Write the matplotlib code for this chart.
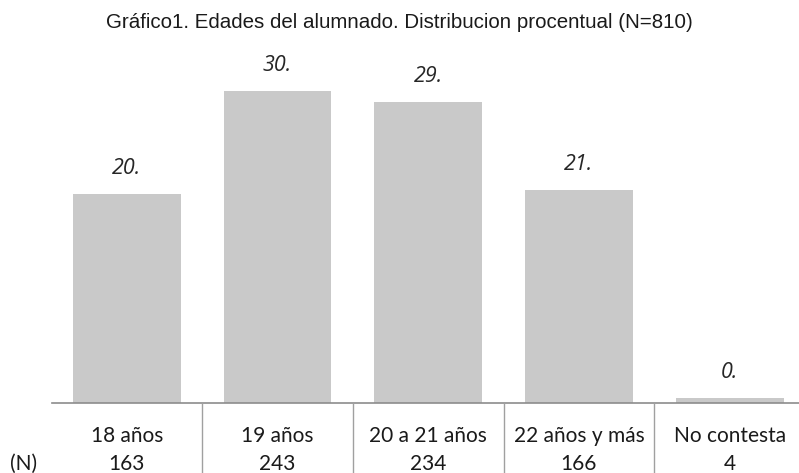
import matplotlib
matplotlib.use("Agg")
import matplotlib.pyplot as plt
from matplotlib.transforms import blended_transform_factory

title = "Gráfico1. Edades del alumnado. Distribucion procentual (N=810)"
categories = ["18 años", "19 años", "20 a 21 años", "22 años y más", "No contesta"]
percent = [20.1, 30.0, 28.9, 20.5, 0.5]
value_labels = ["20.", "30.", "29.", "21.", "0."]
counts = ["163", "243", "234", "166", "4"]
n_label = "(N)"

W, H = 799, 473
fig = plt.figure(figsize=(W / 100, H / 100), dpi=100)

left_px, right_px = 51.5, 805
base_px, top_px = 403, 39
ax = fig.add_axes([left_px / W, (H - base_px) / H,
                   (right_px - left_px) / W, (base_px - top_px) / H])
ax.set_xlim(0, len(categories))
ax.set_ylim(0, 35)

x = [i + 0.5 for i in range(len(categories))]
ax.bar(x, percent, width=0.715, color="#c9c9c9", zorder=2)

for xi, v, lab in zip(x, percent, value_labels):
    ax.annotate(lab, (xi, v), xytext=(0, 11), textcoords="offset points",
                ha="center", va="bottom", fontsize=15.5, style="italic",
                color="#262626", family="Open Sans")

for s in ["top", "right", "left"]:
    ax.spines[s].set_visible(False)
ax.spines["bottom"].set_color("#8c8c8c")
ax.spines["bottom"].set_linewidth(1.2)
ax.set_xticks([])
ax.set_yticks([])

# table below the axis
tr = blended_transform_factory(ax.transData, fig.transFigure)
cat_y = 1 - 436 / H
n_y = 1 - 464 / H
for xi, c, n in zip(x, categories, counts):
    fig.text(xi, cat_y, c, transform=tr, ha="center", va="center",
             fontsize=15, family="Lato", color="#1a1a1a")
    fig.text(xi, n_y, n, transform=tr, ha="center", va="center",
             fontsize=15, family="Lato", color="#1a1a1a")
fig.text(24 / W, n_y, n_label, ha="center", va="center",
         fontsize=15, family="Lato", color="#1a1a1a")

for i in range(1, len(categories)):
    fig.add_artist(plt.Line2D([i, i], [1 - base_px / H, 0], transform=tr,
                              color="#a0a0a0", linewidth=1.0))

fig.text(0.5, 1 - 22 / H, title, ha="center", va="center",
         fontsize=14.8, family="Liberation Sans", color="#1a1a1a")

fig.savefig("out.png", dpi=100)
